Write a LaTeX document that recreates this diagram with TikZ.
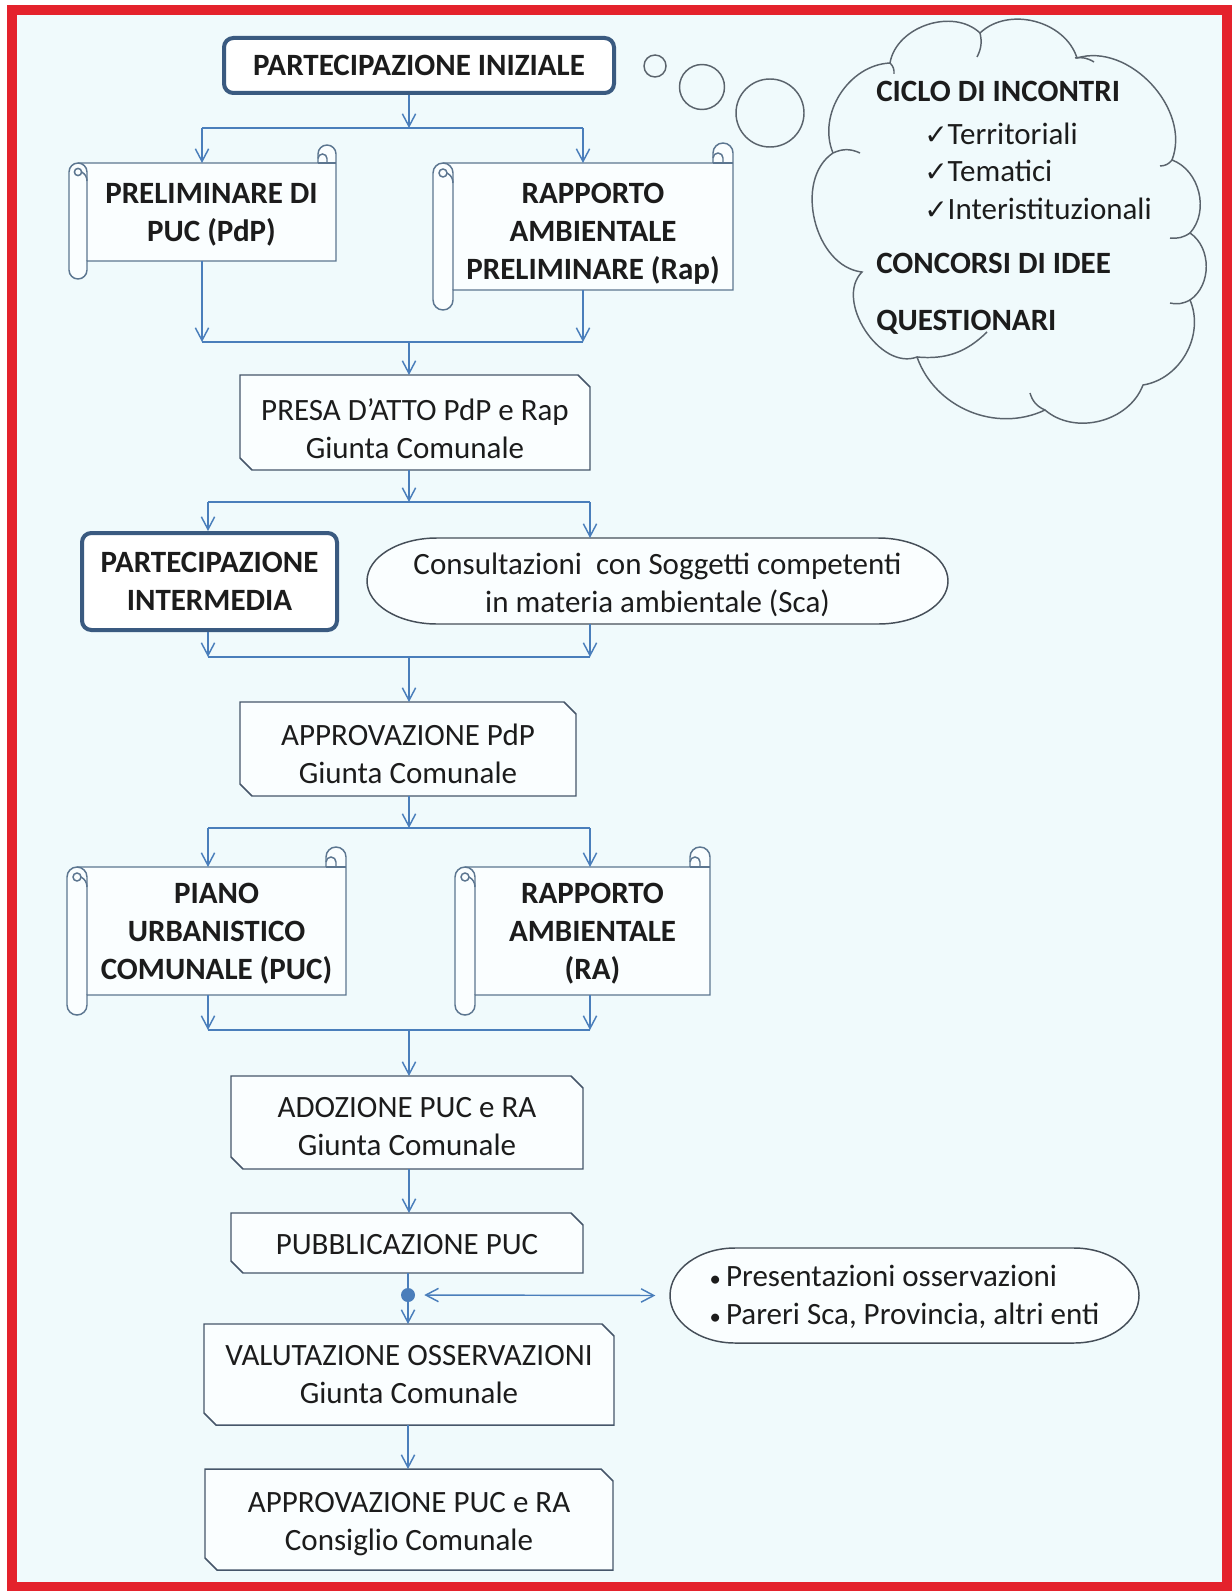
\documentclass[tikz,border=0pt]{standalone}
\usepackage{fontspec}
\setmainfont{Carlito}
\newfontfamily\symfont{DejaVu Sans}
\usetikzlibrary{arrows.meta}
\definecolor{bgc}{HTML}{F0FAFC}
\definecolor{framered}{HTML}{E4222C}
\definecolor{conn}{HTML}{4A7EBB}
\definecolor{boxblue}{HTML}{3A5A80}
\definecolor{snipc}{HTML}{46566A}
\definecolor{scrollc}{HTML}{5C7690}
\definecolor{termc}{HTML}{454E58}
\definecolor{cloudc}{HTML}{5A636C}
\definecolor{ink}{HTML}{1C1C1C}
\definecolor{boxfill}{HTML}{FAFEFF}

\tikzset{
  boxtext/.style={font=\fontsize{23.25}{28.5}\selectfont, text=ink, align=center, inner sep=0pt},
  boldtext/.style={boxtext, font=\fontsize{23.25}{28.5}\selectfont\bfseries},
  geom/.style={inner sep=0pt, outer sep=0pt},
  thickbox/.style={draw=boxblue, line width=3pt, rounded corners=7pt, fill=white},
  snipshape/.style={draw=snipc, line width=1.1pt, fill=boxfill},
  scrollfill/.style={draw=scrollc, line width=1.1pt, fill=boxfill},
  scrollline/.style={draw=scrollc, line width=1.1pt},
  termshape/.style={draw=termc, line width=1.1pt, fill=boxfill},
  cloudline/.style={draw=cloudc, line width=1.1pt},
  conline/.style={draw=conn, line width=1.1pt},
  conarrow/.style={conline, -{Straight Barb[length=9.5pt,width=10pt]}},
  dblarrow/.style={conline, {Straight Barb[length=9.5pt,width=10pt]}-{Straight Barb[length=9.5pt,width=10pt]}},
}

\newcommand\ck{{\symfont\fontsize{21}{21}\selectfont ✓}}
\newcommand\bul{{\fontsize{17}{17}\selectfont •}\,}

% #1 name, #2 L, #3 T, #4 R, #5 B, #6 text, #7 text offset down
\newcommand\SnipBox[7]{%
  \path[snipshape] (#2,-#3) -- ({#4-12},-#3) -- (#4,{-#3-12}) -- (#4,-#5) -- ({#2+12},-#5) -- (#2,{-#5+12}) -- cycle;
  \node[geom, minimum width={(#4-#2)*0.75pt}, minimum height={(#5-#3)*0.75pt}] (#1) at ({(#2+#4)/2},{-(#3+#5)/2}) {};
  \node[boxtext] (#1-t) at ({(#2+#4)/2},{-(#3+#5)/2-#7}) {#6};
}
% #1 name, #2 L, #3 T, #4 R, #5 B, #6 curl size, #7 text, #8 text offset down
\newcommand\ScrollBox[8]{%
  \path[scrollfill] (#2,{-#5-#6/2}) -- (#2,-#5) -- (#4,-#5) -- (#4,{-#3+#6/2})
    arc[start angle=0,end angle=180,radius=#6/2] -- ({#4-#6},-#3) -- ({#2-#6/2},-#3)
    arc[start angle=90,end angle=180,radius=#6/2] -- ({#2-#6},{-#5-#6/2})
    arc[start angle=180,end angle=360,radius=#6/2] -- cycle;
  \draw[scrollline] (#2,-#5) -- (#2,{-#3-#6/2}) arc[start angle=0,end angle=90,radius=#6/2];
  \draw[scrollline] ({#4-#6},-#3) -- (#4,-#3);
  \draw[scrollline] ({#4-#6/2},-#3) -- ({#4-#6/2},{-#3+#6/4}) arc[start angle=0,end angle=180,radius=#6/4];
  \draw[scrollline] ({#2-#6/2},{-#3-#6/2}) circle[radius=#6/5];
  \draw[scrollline] ({#2-#6/2+#6/5},{-#3-#6/2}) to[bend left=30] (#2,{-#3-#6});
  \node[geom, minimum width={(#4-#2)*0.75pt}, minimum height={(#5-#3)*0.75pt}] (#1) at ({(#2+#4)/2},{-(#3+#5)/2}) {};
  \node[boldtext] (#1-t) at ({(#2+#4)/2},{-(#3+#5)/2-#8}) {#7};
}
% #1 name, #2 L, #3 T, #4 R, #5 B, #6 end radius, #7 align, #8 text, #9 offset
\newcommand\TermBox[9]{%
  \path[termshape] ({#2+#6},-#3) -- ({#4-#6},-#3)
    arc[start angle=90,end angle=-90,x radius=#6,y radius={(#5-#3)/2}] -- ({#2+#6},-#5)
    arc[start angle=270,end angle=90,x radius=#6,y radius={(#5-#3)/2}] -- cycle;
  \node[geom, minimum width={(#4-#2)*0.75pt}, minimum height={(#5-#3)*0.75pt}] (#1) at ({(#2+#4)/2},{-(#3+#5)/2}) {};
  \node[boxtext, align=#7] (#1-t) at ({(#2+#4)/2},{-(#3+#5)/2-#9}) {#8};
}

\begin{document}
\begin{tikzpicture}[x=0.75pt,y=0.75pt]
\useasboundingbox (0,0) rectangle (1231,-1591);
\fill[white] (0,0) rectangle (1231,-1591);
\fill[bgc] (12,-10) rectangle (1227,-1587);
\draw[framered, line width=7.5pt] (12,-10) rectangle (1227,-1587);

% ---------- top box
\node[thickbox, boldtext, minimum width=292.5pt, minimum height=41.25pt] (pini) at (419,-65.5) {PARTECIPAZIONE INIZIALE};

% ---------- thought bubbles and cloud
\draw[cloudline] (655,-66) circle[radius=11];
\draw[cloudline] (702,-87) circle[radius=22.5];
\draw[cloudline] (770,-113) circle[radius=34];
\draw[cloudline] (833,-153) to[bend left=55] (890,-63) to[bend left=62] (980,-33)
  to[bend left=58] (1077,-58) to[bend left=64] (1172,-160) to[bend left=56] (1190,-233)
  to[bend left=56] (1190,-300) to[bend left=52] (1143,-385) to[bend left=55] (1045,-410)
  to[bend left=48] (917,-357) to[bend left=78] (862,-272) to[bend left=70] (833,-153);
\draw[cloudline] (833,-153) to[bend left=25] (860,-153);
\draw[cloudline] (890,-63) to[bend left=25] (894,-74);
\draw[cloudline] (980,-33) to[bend left=20] (977,-57);
\draw[cloudline] (1075,-58) to[bend left=20] (1094,-62);
\draw[cloudline] (1172,-160) to[bend left=25] (1160,-166);
\draw[cloudline] (1190,-233) to[bend left=20] (1170,-238);
\draw[cloudline] (1190,-300) to[bend left=20] (1170,-303);
\draw[cloudline] (1045,-410) to[bend left=25] (1030,-393);
\draw[cloudline] (987,-332) to[bend left=25] (917,-357);

\node[boldtext, anchor=west] (c1) at (876,-91) {CICLO DI INCONTRI};
\node[boxtext, anchor=west] (c2) at (924,-134) {\ck Territoriali};
\node[boxtext, anchor=west] (c3) at (924,-171) {\ck Tematici};
\node[boxtext, anchor=west] (c4) at (924,-209) {\ck Interistituzionali};
\node[boldtext, anchor=west] (c5) at (876,-263) {CONCORSI DI IDEE};
\node[boldtext, anchor=west] (c6) at (876,-322) {QUESTIONARI};

% ---------- scrolls row 1
\ScrollBox{s1}{87}{163}{336}{261}{18}{PRELIMINARE DI\\PUC (PdP)}{3}
\ScrollBox{s2}{453}{163}{733}{290}{20}{RAPPORTO\\AMBIENTALE\\PRELIMINARE (Rap)}{7}

% ---------- boxes
\SnipBox{presa}{240}{375}{590}{470}{PRESA D’ATTO PdP e Rap\\Giunta Comunale}{6}
\node[thickbox, boldtext, minimum width=191.25pt, minimum height=72.75pt] (pint) at (209.5,-581.5) {PARTECIPAZIONE\\INTERMEDIA};
\TermBox{sca}{367}{538}{948}{624}{70}{center}{Consultazioni\ \ con Soggetti competenti\\in materia ambientale (Sca)}{4}
\SnipBox{appdp}{240}{702}{576}{796}{APPROVAZIONE PdP\\Giunta Comunale}{5}
\ScrollBox{s3}{87}{867}{346}{995}{20}{PIANO\\URBANISTICO\\COMUNALE (PUC)}{3}
\ScrollBox{s4}{475}{867}{710}{995}{20}{RAPPORTO\\AMBIENTALE\\(RA)}{3}
\SnipBox{adoz}{231}{1076}{583}{1169}{ADOZIONE PUC e RA\\Giunta Comunale}{4}
\SnipBox{pubb}{231}{1213}{583}{1273}{PUBBLICAZIONE PUC}{2}
\TermBox{obs}{670}{1248}{1139}{1343}{65}{left}{\bul Presentazioni osservazioni\\\bul Pareri Sca, Provincia, altri enti}{1}
\SnipBox{valut}{204}{1324}{614}{1425}{VALUTAZIONE OSSERVAZIONI\\Giunta Comunale}{0}
\SnipBox{apppuc}{205}{1469}{613}{1570}{APPROVAZIONE PUC e RA\\Consiglio Comunale}{5}

% ---------- connectors
\coordinate (h1) at (409,-128); \coordinate (h1l) at (202,-128); \coordinate (h1r) at (583,-128);
\draw[conarrow] (pini.south -| h1) -- (h1);
\draw[conline] (h1l) -- (h1r);
\draw[conarrow] (h1l) -- (h1l |- s1.north);
\draw[conarrow] (h1r) -- (h1r |- s2.north);

\coordinate (h2) at (409,-342); \coordinate (h2l) at (202,-342); \coordinate (h2r) at (583,-342);
\draw[conarrow] (h2l |- s1.south) -- (h2l);
\draw[conarrow] (h2r |- s2.south) -- (h2r);
\draw[conline] (h2l) -- (h2r);
\draw[conarrow] (h2) -- (h2 |- presa.north);

\coordinate (h3) at (409,-502); \coordinate (h3l) at (208,-502); \coordinate (h3r) at (590,-502);
\draw[conarrow] (presa.south -| h3) -- (h3);
\draw[conline] (h3l) -- (h3r);
\draw[conarrow] (h3l) -- (h3l |- pint.north);
\draw[conarrow] (h3r) -- (h3r |- sca.north);

\coordinate (h4) at (409,-657); \coordinate (h4l) at (208,-657); \coordinate (h4r) at (590,-657);
\draw[conarrow] (h4l |- pint.south) -- (h4l);
\draw[conarrow] (h4r |- sca.south) -- (h4r);
\draw[conline] (h4l) -- (h4r);
\draw[conarrow] (h4) -- (h4 |- appdp.north);

\coordinate (h5) at (409,-828); \coordinate (h5l) at (208,-828); \coordinate (h5r) at (590,-828);
\draw[conarrow] (appdp.south -| h5) -- (h5);
\draw[conline] (h5l) -- (h5r);
\draw[conarrow] (h5l) -- (h5l |- s3.north);
\draw[conarrow] (h5r) -- (h5r |- s4.north);

\coordinate (h6) at (409,-1030); \coordinate (h6l) at (208,-1030); \coordinate (h6r) at (590,-1030);
\draw[conarrow] (h6l |- s3.south) -- (h6l);
\draw[conarrow] (h6r |- s4.south) -- (h6r);
\draw[conline] (h6l) -- (h6r);
\draw[conarrow] (h6) -- (h6 |- adoz.north);

\draw[conarrow] (adoz.south -| h6) -- (h6 |- pubb.north);
\node[circle, fill=conn, inner sep=0pt, minimum size=10.5pt] (dot) at (408,-1295) {};
\draw[conline] (pubb.south -| dot) -- (dot);
\draw[conarrow] (dot) -- (dot |- valut.north);
\draw[dblarrow] ([xshift=6.75pt]dot.east) -- ([xshift=-11pt]obs.west);
\draw[conarrow] (valut.south -| dot) -- (dot |- apppuc.north);
\end{tikzpicture}
\end{document}
